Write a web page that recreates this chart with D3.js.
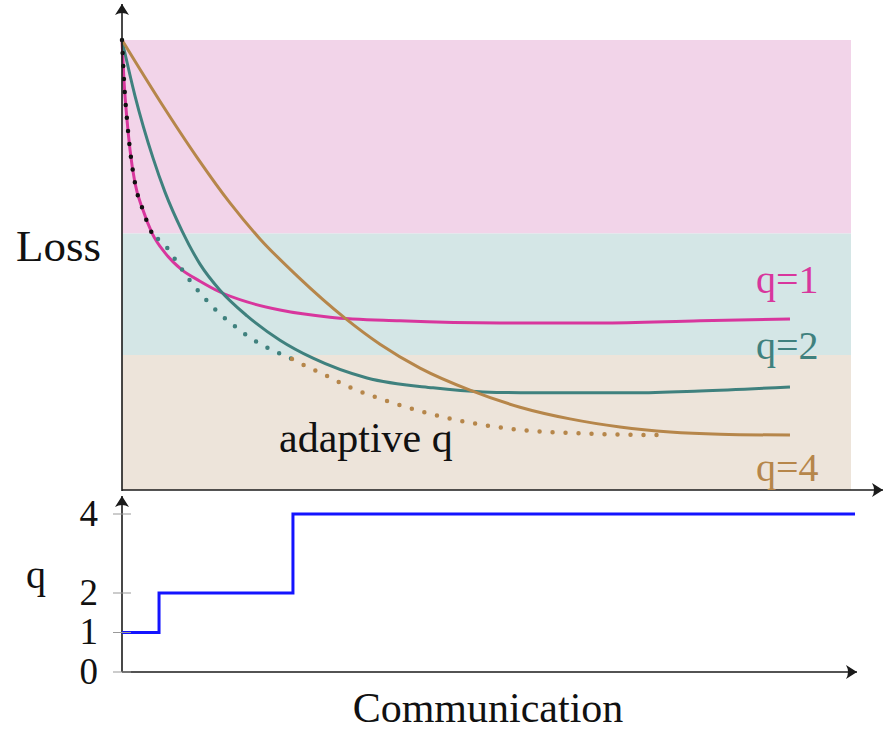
<!DOCTYPE html>
<html>
<head>
<meta charset="utf-8">
<script src="https://cdn.jsdelivr.net/npm/d3@7"></script>
<style>
  body { margin: 0; background: #fff; }
  #wrap { position: relative; width: 883px; height: 733px; }
  #wrap svg { position: absolute; left: 0; top: 0; }
  .lbl { position: absolute; white-space: nowrap; line-height: 1;
         font-family: 'Liberation Serif', Tinos, 'Times New Roman', Times; }
</style>
</head>
<body>
<div id="wrap"><svg class="chart"></svg></div>
<script>
// communication (0-100) vs loss (0-100)
var q1X = [0, 0.27, 0.69, 1.10, 1.78, 2.88, 4.12, 5.90, 8.23, 10.70, 13.44, 17.15, 21.67, 28.53, 38.13, 51.85, 65.57, 79.29, 91.63];
var q1Loss = [100, 91.1, 82.2, 75.6, 68.2, 62.2, 57.1, 52.7, 48.9, 46.4, 44.0, 41.8, 40.0, 38.4, 37.6, 37.1, 37.1, 37.6, 38.0];

var q2X = [0, 1.78, 4.25, 5.90, 8.23, 10.70, 13.44, 17.15, 21.67, 26.20, 33.61, 42.66, 49.52, 56.38, 70.10, 79.29, 91.63];
var q2Loss = [100, 87.6, 73.8, 66.2, 57.6, 50.2, 44.4, 38.7, 33.3, 29.3, 24.9, 22.7, 21.8, 21.6, 21.6, 22.0, 22.9];

var q4X = [0, 5.21, 10.43, 14.81, 18.93, 24.01, 30.59, 35.39, 40.88, 47.74, 54.60, 61.45, 68.31, 75.17, 82.03, 91.63];
var q4Loss = [100, 86.4, 73.6, 63.8, 55.8, 47.6, 38.2, 32.4, 27.1, 22.2, 18.4, 15.8, 14.0, 12.9, 12.4, 12.2];

var adaptX = [0, 0.27, 0.69, 1.10, 1.78, 2.88, 4.12, 4.94, 6.31, 7.27, 8.37, 9.47, 10.70, 11.93, 13.44, 14.95, 16.46, 18.11, 19.75, 21.54, 23.32, 25.51, 27.30, 30.86, 36.35, 41.84, 47.33, 53.22, 61.04, 73.4];
var adaptLoss = [100, 91.1, 82.2, 75.6, 68.2, 62.2, 57.1, 55.8, 53.6, 51.3, 48.7, 46.2, 43.8, 41.6, 39.1, 37.1, 35.1, 33.3, 31.8, 30.4, 29.1, 27.3, 26.0, 23.1, 19.8, 17.1, 15.1, 13.6, 12.7, 12.2];

// q used by the adaptive scheme (step plot)
var stepX = [0, 5.08, 23.45, 100.55];
var stepQ = [1, 2, 4, 4];
var qTicks = [0, 1, 2, 4];

// loss regions (bands behind the curves)
var bandFrom = [57, 30, 0];
var bandTo = [100, 57, 30];
var bandColors = ["#f2d4e9", "#d4e6e6", "#ede4da"];

var colors = { q1: "#d8369d", q2: "#3f817e", q4: "#b6864a", black: "#111", blue: "#1414ff" };

var svg = d3.select(".chart").attr("width", 883).attr("height", 733);

var x = d3.scaleLinear().domain([0, 100]).range([122, 851]);
var yLoss = d3.scaleLinear().domain([0, 100]).range([490, 40]);
var yQ = d3.scaleLinear().domain([0, 4]).range([672, 514]);

function pts(xs, ys) { return xs.map(function(v, i) { return [v, ys[i]]; }); }

// bands
svg.selectAll("rect.band").data(bandFrom).enter().append("rect")
    .attr("class", "band")
    .attr("x", x(0))
    .attr("width", x(100) - x(0))
    .attr("y", function(d, i) { return yLoss(bandTo[i]); })
    .attr("height", function(d, i) { return yLoss(bandFrom[i]) - yLoss(bandTo[i]); })
    .attr("fill", function(d, i) { return bandColors[i]; });

var line = d3.line()
    .x(function(d) { return x(d[0]); })
    .y(function(d) { return yLoss(d[1]); })
    .curve(d3.curveMonotoneX);

var curves = [
    { p: pts(q1X, q1Loss), c: colors.q1 },
    { p: pts(q2X, q2Loss), c: colors.q2 },
    { p: pts(q4X, q4Loss), c: colors.q4 }
];
curves.forEach(function(cv) {
    svg.append("path").attr("d", line(cv.p))
        .attr("fill", "none").attr("stroke", cv.c).attr("stroke-width", 3);
});

// adaptive curve, dotted, coloured by the q in use
var adapt = pts(adaptX, adaptLoss);
var segColors = [colors.black, colors.q2, colors.q4];
for (var s = 0; s < 3; s++) {
    var lo = stepX[s], hi = stepX[s + 1];
    var seg = adapt.filter(function(d) { return d[0] >= lo - 0.9 && d[0] <= hi + 0.9; });
    svg.append("path").attr("d", line(seg))
        .attr("fill", "none").attr("stroke", segColors[s])
        .attr("stroke-width", 4.5)
        .attr("stroke-linecap", "round")
        .attr("stroke-dasharray", "0 13");
}

// arrow-headed axes
function arrowAxis(x1, y1, x2, y2) {
    svg.append("line").attr("x1", x1).attr("y1", y1).attr("x2", x2).attr("y2", y2)
        .attr("stroke", "#1a1a1a").attr("stroke-width", 1.6);
    var a = Math.atan2(y2 - y1, x2 - x1) * 180 / Math.PI;
    svg.append("path")
        .attr("d", "M0,0 L-11,-7 Q-7,0 -11,7 Z")
        .attr("transform", "translate(" + x2 + "," + y2 + ") rotate(" + a + ")")
        .attr("fill", "#1a1a1a");
}
arrowAxis(x(0), 491, x(0), 4);
arrowAxis(x(0), 490, 883, 490);
arrowAxis(x(0), yQ(0), x(0), 496);
arrowAxis(x(0), yQ(0), 857, yQ(0));

// q step plot
svg.append("path")
    .attr("d", d3.line()
        .x(function(d) { return x(d[0]); })
        .y(function(d) { return yQ(d[1]); })
        .curve(d3.curveStepAfter)(pts(stepX, stepQ)))
    .attr("fill", "none").attr("stroke", colors.blue).attr("stroke-width", 3);

// q ticks
svg.selectAll("line.qt").data(qTicks).enter().append("line")
    .attr("class", "qt")
    .attr("x1", 113).attr("x2", 131)
    .attr("y1", function(d) { return yQ(d); }).attr("y2", function(d) { return yQ(d); })
    .attr("stroke", "#999").attr("stroke-width", 1);

// texts: x/y is the baseline point, as for svg text
var texts = [
    { t: "q=1", x: 756, y: 294, size: 40, c: colors.q1 },
    { t: "q=2", x: 756, y: 360, size: 40, c: colors.q2 },
    { t: "q=4", x: 756, y: 482, size: 40, c: colors.q4 },
    { t: "adaptive q", x: 279, y: 452, size: 42, c: "#111" },
    { t: "Loss", x: 16, y: 262, size: 45, c: "#111" },
    { t: "q", x: 26, y: 589, size: 40, c: "#111" },
    { t: "Communication", x: 488, y: 722, size: 42, c: "#111", anchor: "middle" }
];
qTicks.forEach(function(v) {
    texts.push({ t: String(v), x: 98, y: yQ(v) + 12, size: 37, c: "#111", anchor: "end" });
});

var shift = { start: "0", middle: "-50%", end: "-100%" };
d3.select("#wrap").selectAll("div.lbl").data(texts).enter().append("div")
    .attr("class", "lbl")
    .style("left", function(d) { return d.x + "px"; })
    .style("top", function(d) { return (d.y - 0.84 * d.size) + "px"; })
    .style("font-size", function(d) { return d.size + "px"; })
    .style("color", function(d) { return d.c; })
    .style("transform", function(d) { return "translateX(" + shift[d.anchor || "start"] + ")"; })
    .text(function(d) { return d.t; });
</script>
</body>
</html>
